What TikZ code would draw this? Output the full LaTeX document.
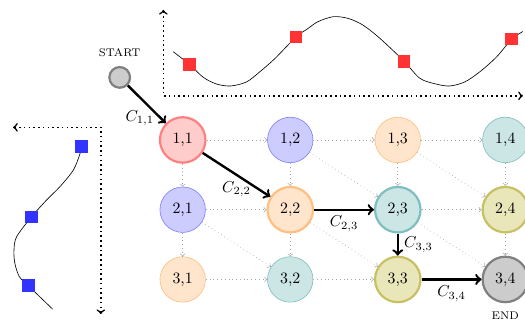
\documentclass[tikz,border=0pt]{standalone}
\usepackage{amsmath}
\usepackage{tikz}
\usetikzlibrary{arrows.meta,positioning}

\begin{document}
\begin{tikzpicture}[>=to,node distance=15.5mm and 23.9mm,on grid,
 cell/.style={circle,draw,minimum size=10.1mm,inner sep=0pt},
 heavy/.style={line width=1.4pt},
 dg2/.style={fill=red!20,draw=red!50},
 dg3/.style={fill=blue!20,draw=blue!50},
 dg4/.style={fill=orange!20,draw=orange!50},
 dg5/.style={fill=teal!20,draw=teal!50},
 dg6/.style={fill=olive!20,draw=olive!50},
 dg7/.style={fill=black!20,draw=black!50},
 sample/.style={rectangle,minimum size=2.8mm,inner sep=0pt},
 axis/.style={line width=1pt,dotted,<->},
 every edge/.style={draw,->,dotted,gray!70},
 cost/.style={->,line width=1.5pt}]
\useasboundingbox (0,0) rectangle (11.667,-7.156);
% cost matrix
\node[cell,dg2,heavy] (n11) at (4.06,-3.11) {1,1};
\node[cell,dg3,right=of n11] (n12) {1,2};
\node[cell,dg4,right=of n12] (n13) {1,3};
\node[cell,dg5,right=of n13] (n14) {1,4};
\node[cell,dg3,below=of n11] (n21) {2,1};
\node[cell,dg4,heavy,below=of n12] (n22) {2,2};
\node[cell,dg5,heavy,below=of n13] (n23) {2,3};
\node[cell,dg6,heavy,below=of n14] (n24) {2,4};
\node[cell,dg4,below=of n21] (n31) {3,1};
\node[cell,dg5,below=of n22] (n32) {3,2};
\node[cell,dg6,heavy,below=of n23] (n33) {3,3};
\node[cell,dg7,heavy,below=of n24] (n34) {3,4};
\node[circle,draw=black!50,fill=black!20,heavy,minimum size=4.6mm,inner sep=0pt,
 above left=13.9mm and 14mm of n11] (start) {};
\node[font=\scriptsize,above=5.5mm of start] (startlbl) {START};
\node[font=\scriptsize,below=8.1mm of n34] (endlbl) {END};
\path (n11) edge (n12) (n12) edge (n13) (n13) edge (n14)
(n21) edge (n22) (n22) edge (n23) (n23) edge (n24)
(n31) edge (n32) (n32) edge (n33) (n33) edge (n34)
(n11) edge (n21) (n21) edge (n31) (n12) edge (n22) (n22) edge (n32)
(n13) edge (n23) (n23) edge (n33) (n14) edge (n24) (n24) edge (n34)
(n11) edge (n22) (n12) edge (n23) (n13) edge (n24)
(n21) edge (n32) (n22) edge (n33) (n23) edge (n34);
% warping path
\draw[cost] (start) -- node[pos=0.86,left] {$C_{1,1}$} (n11);
\draw[cost] (n11) -- node[below] {$C_{2,2}$} (n22);
\draw[cost] (n22) -- node[below] {$C_{2,3}$} (n23);
\draw[cost] (n23) -- node[right] {$C_{3,3}$} (n33);
\draw[cost] (n33) -- node[below] {$C_{3,4}$} (n34);
% top series
\coordinate (ty) at (3.63,-0.22);
\coordinate (to) at (3.63,-2.13);
\coordinate (tx) at (11.62,-2.13);
\draw[axis] (ty) -- (to) -- (tx);
\draw plot[smooth] coordinates {(3.85,-1.15) (4.21,-1.43) (4.52,-1.72) (4.82,-1.87)
 (5.13,-1.91) (5.48,-1.82) (5.78,-1.59) (6.11,-1.30) (6.58,-0.82) (6.82,-0.65)
 (7.07,-0.48) (7.41,-0.37) (7.74,-0.41) (8.07,-0.56) (8.44,-0.85) (8.98,-1.36)
 (9.33,-1.74) (9.70,-1.87) (10.00,-1.91) (10.33,-1.82) (10.67,-1.59) (11.04,-1.26)
 (11.37,-0.87) (11.62,-0.70)};
\node[sample,fill=red!80] (a1) at (4.21,-1.43) {};
\node[sample,fill=red!80] (a2) at (6.58,-0.82) {};
\node[sample,fill=red!80] (a3) at (8.98,-1.36) {};
\node[sample,fill=red!80] (a4) at (11.37,-0.87) {};
% left series
\coordinate (lx) at (0.29,-2.83);
\coordinate (lo) at (2.24,-2.83);
\coordinate (ly) at (2.24,-6.98);
\draw[axis] (lx) -- (lo) -- (ly);
\draw plot[smooth] coordinates {(1.81,-3.26) (1.78,-3.41) (1.63,-3.78) (1.33,-4.15)
 (1.04,-4.44) (0.70,-4.82) (0.37,-5.26) (0.31,-5.56) (0.33,-5.85) (0.43,-6.15)
 (0.63,-6.35)} -- (1.17,-6.87);
\node[sample,fill=blue!80] (b1) at (1.81,-3.26) {};
\node[sample,fill=blue!80] (b2) at (0.70,-4.82) {};
\node[sample,fill=blue!80] (b3) at (0.63,-6.35) {};
\end{tikzpicture}
\end{document}
